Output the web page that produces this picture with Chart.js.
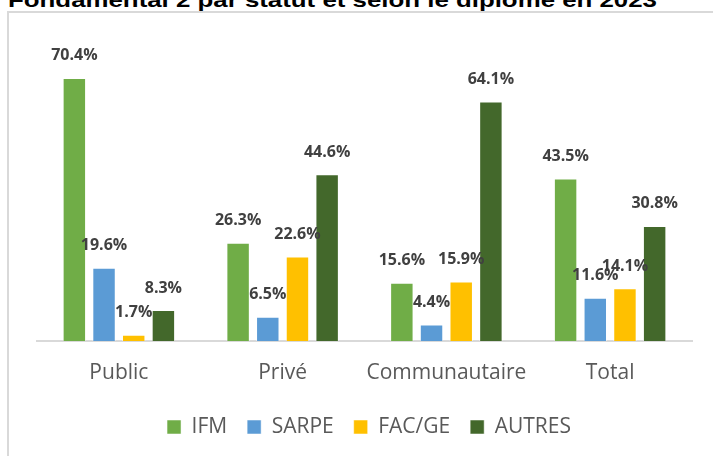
<!DOCTYPE html>
<html>
<head>
<meta charset="utf-8">
<script src="https://cdn.jsdelivr.net/npm/chart.js@4.4.1/dist/chart.umd.min.js"></script>
<style>
  html, body { margin: 0; padding: 0; background: #fff; overflow: hidden; }
  body { width: 713px; height: 456px; position: relative; }
  #frame { position: absolute; left: 7px; top: 11px; width: 800px; height: 500px;
           border-left: 2px solid #D9D9D9; border-top: 2px solid #D9D9D9; box-sizing: border-box; }
  #title { position: absolute; left: 0; top: 0; width: 713px; height: 20px; overflow: visible; }
  #wrap { position: absolute; left: 0; top: 0; width: 713px; height: 456px; }
</style>
</head>
<body>
<div id="frame"></div>
<svg id="title" width="713" height="20">
  <text x="8" y="7" font-family="Liberation Sans, Arial, sans-serif" font-weight="bold" font-size="21" fill="#000" textLength="649" lengthAdjust="spacingAndGlyphs">Fondamental 2 par statut et selon le diplôme en 2023</text>
</svg>
<div id="wrap"><canvas id="c" width="713" height="456"></canvas></div>
<script>
const categories = ['Public', 'Privé', 'Communautaire', 'Total'];
const seriesNames = ['IFM', 'SARPE', 'FAC/GE', 'AUTRES'];
const ifmValues = [70.4, 26.3, 15.6, 43.5];
const sarpeValues = [19.6, 6.5, 4.4, 11.6];
const facgeValues = [1.7, 22.6, 15.9, 14.1];
const autresValues = [8.3, 44.6, 64.1, 30.8];
const seriesColors = ['#70AD47', '#5B9BD5', '#FFC000', '#43682B'];

const allSeries = [ifmValues, sarpeValues, facgeValues, autresValues];

const labelPlugin = {
  id: 'valueLabels',
  afterDatasetsDraw(chart) {
    const ctx = chart.ctx;
    ctx.save();
    ctx.font = 'bold 16px "Open Sans", sans-serif';
    ctx.fillStyle = '#404040';
    ctx.textAlign = 'center';
    ctx.textBaseline = 'middle';
    chart.data.datasets.forEach((ds, di) => {
      const meta = chart.getDatasetMeta(di);
      meta.data.forEach((el, i) => {
        ctx.fillText(ds.data[i].toFixed(1) + '%', el.x, el.y - 22);
      });
    });
    ctx.restore();
  }
};

new Chart(document.getElementById('c'), {
  type: 'bar',
  data: {
    labels: categories,
    datasets: allSeries.map((vals, i) => ({
      label: seriesNames[i],
      data: vals,
      backgroundColor: seriesColors[i],
      borderColor: 'rgba(255,255,255,0.5)',
      borderWidth: 1,
      categoryPercentage: 0.725,
      barPercentage: 0.79
    }))
  },
  options: {
    responsive: false,
    animation: false,
    layout: { padding: { left: 37, right: 12, top: 42, bottom: 8.5 } },
    plugins: {
      legend: {
        position: 'bottom',
        labels: {
          boxWidth: 14, boxHeight: 14, padding: 20,
          color: '#595959',
          font: { family: '"Open Sans", sans-serif', size: 21 }
        }
      },
      tooltip: { enabled: false },
      title: { display: false }
    },
    scales: {
      x: {
        grid: { display: false, drawTicks: false },
        border: { display: true, color: '#D9D9D9', width: 2 },
        ticks: { color: '#595959', padding: 19, maxRotation: 0, minRotation: 0, autoSkip: false,
                 font: { family: '"Open Sans", sans-serif', size: 21 } },
        afterFit(axis) { axis.height = 55.5; }
      },
      y: {
        position: 'right',
        min: 0, max: 80,
        grid: { display: false, drawTicks: false },
        border: { display: false },
        ticks: { display: false },
        afterFit(axis) { axis.width = 9; }
      }
    }
  },
  plugins: [labelPlugin]
});
</script>
</body>
</html>
